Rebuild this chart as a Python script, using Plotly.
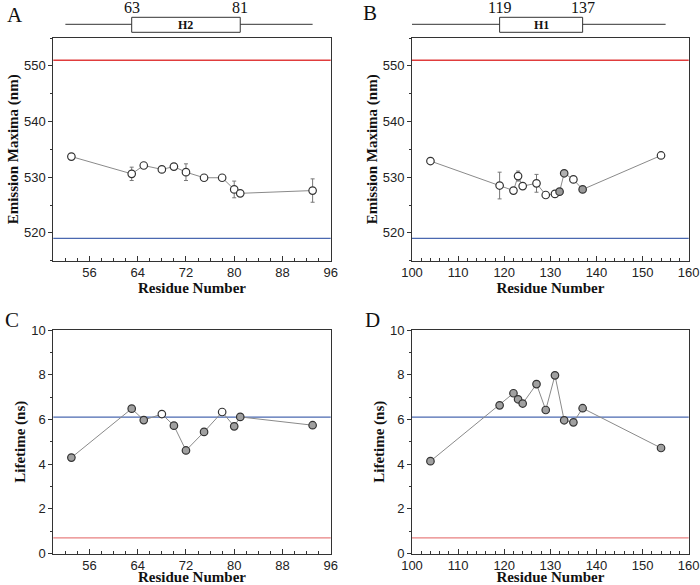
import plotly.graph_objects as go

# ---------------- data ----------------
resA = [53, 63, 65, 68, 70, 72, 75, 78, 80, 81, 93]
emA = [533.7, 530.6, 532.1, 531.4, 531.9, 530.9, 529.9, 529.9, 527.8, 527.1, 527.6]
emA_err = [0.3, 1.2, 0.3, 0.3, 0.3, 1.5, 0.2, 0.2, 1.5, 0.3, 2.1]
fillA = ["white"] * 11

resB = [104, 119, 122, 123, 124, 127, 129, 131, 132, 133, 135, 137, 154]
emB = [532.9, 528.5, 527.6, 530.2, 528.4, 528.9, 526.8, 527.0, 527.4, 530.7, 529.6, 527.8, 533.9]
emB_err = [0.3, 2.4, 0.3, 0.9, 0.3, 1.6, 0.3, 0.3, 0.3, 0.3, 0.3, 0.3, 0.3]
fillB = ["white"] * 8 + ["#9a9a9a", "#b0b0b0", "white", "#9a9a9a", "white"]

resC = [53, 63, 65, 68, 70, 72, 75, 78, 80, 81, 93]
ltC = [4.29, 6.48, 5.97, 6.24, 5.72, 4.61, 5.44, 6.33, 5.69, 6.11, 5.74]
fillC = ["#a0a0a0", "#a0a0a0", "#a0a0a0", "white", "#a0a0a0", "#a0a0a0",
         "#a0a0a0", "white", "#a0a0a0", "#a0a0a0", "#a0a0a0"]

resD = [104, 119, 122, 123, 124, 127, 129, 131, 133, 135, 137, 154]
ltD = [4.13, 6.63, 7.17, 6.90, 6.71, 7.58, 6.42, 7.97, 5.96, 5.87, 6.50, 4.72]
fillD = ["#a0a0a0"] * 12

em_red, em_blue = 551, 519
lt_red, lt_blue = 0.7, 6.1

# schematic: [line start, line end], [helix start, helix end], label
schemA_line = [52, 93]
schemA_helix = [63, 81]
schemA_label = "H2"
schemB_line = [100, 155]
schemB_helix = [119, 137]
schemB_label = "H1"

# ---------------- geometry ----------------
W, H = 700, 585
def px(x): return x / W
def py(y): return 1 - y / H

xdomL = [px(53.3), px(330.7)]
xdomR = [px(412), px(688.7)]
ydomT = [py(260.7), py(38)]
ydomB = [py(553.5), py(330)]

SERIF = "Liberation Serif, Times New Roman, serif"
TICKF = dict(family="Liberation Sans, Arial", size=13, color="#222")
TITF = dict(family=SERIF, size=15, color="#111")

fig = go.Figure()

def add_panel(xa, ya, x, y, err, fills):
    errd = dict(type="data", array=err, visible=True, color="#777",
                thickness=1, width=2) if err is not None else None
    fig.add_trace(go.Scatter(
        x=x, y=y, xaxis=xa, yaxis=ya, mode="lines+markers",
        line=dict(color="#8a8a8a", width=1),
        marker=dict(size=7.5, color=fills, line=dict(color="#333", width=1.2)),
        error_y=errd, showlegend=False, hoverinfo="skip"))

add_panel("x", "y", resA, emA, emA_err, fillA)
add_panel("x2", "y2", resB, emB, emB_err, fillB)
add_panel("x3", "y3", resC, ltC, None, fillC)
add_panel("x4", "y4", resD, ltD, None, fillD)

def xax(domain, rng, dtick, minor_d, anchor):
    return dict(domain=domain, range=rng, anchor=anchor, dtick=dtick,
                tick0=rng[0] if dtick == 10 else 56, automargin=False,
                showgrid=False, zeroline=False, showline=True, mirror=True,
                linecolor="#333", linewidth=1, ticks="inside", ticklen=5,
                tickcolor="#333", tickfont=TICKF,
                minor=dict(dtick=minor_d, ticks="inside", ticklen=3, tickcolor="#333"),
                title=dict(text="<b>Residue Number</b>", font=TITF, standoff=0))

def yax(domain, rng, tickvals_d, minor_d, anchor, title):
    return dict(domain=domain, range=rng, anchor=anchor, dtick=tickvals_d,
                automargin=False,
                showgrid=False, zeroline=False, showline=True, mirror=True,
                linecolor="#333", linewidth=1, ticks="outside", ticklen=4,
                tickcolor="#333", tickfont=TICKF,
                minor=dict(dtick=minor_d, ticks="outside", ticklen=2, tickcolor="#333"),
                title=dict(text="<b>" + title + "</b>", font=TITF, standoff=1))

fig.update_layout(
    width=W, height=H, margin=dict(l=0, r=0, t=0, b=0, autoexpand=False),
    paper_bgcolor="white", plot_bgcolor="white",
    xaxis=xax(xdomL, [50, 96], 8, 2, "y"),
    yaxis=yax(ydomT, [515, 555], 10, 5, "x", "Emission Maxima (nm)"),
    xaxis2=xax(xdomR, [100, 160], 10, 2, "y2"),
    yaxis2=yax(ydomT, [515, 555], 10, 5, "x2", "Emission Maxima (nm)"),
    xaxis3=xax(xdomL, [50, 96], 8, 2, "y3"),
    yaxis3=yax(ydomB, [0, 10], 2, 1, "x3", "Lifetime (ns)"),
    xaxis4=xax(xdomR, [100, 160], 10, 2, "y4"),
    yaxis4=yax(ydomB, [0, 10], 2, 1, "x4", "Lifetime (ns)"),
)

shapes = []
# reference lines
for xr, yr, val, col in [("x", "y", em_red, "#e03c3c"), ("x", "y", em_blue, "#4a68b0"),
                         ("x2", "y2", em_red, "#e03c3c"), ("x2", "y2", em_blue, "#4a68b0"),
                         ("x3", "y3", lt_red, "#e88080"), ("x3", "y3", lt_blue, "#4a68b0"),
                         ("x4", "y4", lt_red, "#e88080"), ("x4", "y4", lt_blue, "#4a68b0")]:
    shapes.append(dict(type="line", xref=xr + " domain", yref=yr, x0=0, x1=1, y0=val, y1=val,
                       line=dict(color=col, width=1.3), layer="below"))

annotations = []
for xr, line_ext, helix, lab in [("x", schemA_line, schemA_helix, schemA_label),
                                 ("x2", schemB_line, schemB_helix, schemB_label)]:
    shapes.append(dict(type="line", xref=xr, yref="paper", x0=line_ext[0], x1=line_ext[1],
                       y0=py(24.3), y1=py(24.3), line=dict(color="#333", width=1)))
    shapes.append(dict(type="rect", xref=xr, yref="paper", x0=helix[0], x1=helix[1],
                       y0=py(32.3), y1=py(17.3), fillcolor="white",
                       line=dict(color="#333", width=1)))
    annotations.append(dict(xref=xr, yref="paper", x=(helix[0] + helix[1]) / 2, y=py(25),
                            xanchor="center", yanchor="middle",
                            text="<b>" + lab + "</b>", showarrow=False,
                            font=dict(family=SERIF, size=12, color="#111")))
    for v in helix:
        annotations.append(dict(xref=xr, yref="paper", x=v, y=py(8), text=str(v),
                                xanchor="center", yanchor="middle", showarrow=False,
                                font=dict(family=SERIF, size=16, color="#111")))

for lab, x, y in [("A", 15, 15), ("B", 370, 13), ("C", 12, 320), ("D", 372, 320)]:
    annotations.append(dict(xref="paper", yref="paper", x=px(x), y=py(y), text=lab,
                            xanchor="center", yanchor="middle", showarrow=False,
                            font=dict(family=SERIF, size=21, color="#111")))

fig.update_layout(shapes=shapes, annotations=annotations)
fig.write_html("out.html", config={"displayModeBar": False})

# remove default page margin so the 700x585 figure fills the window exactly
with open("out.html", encoding="utf-8") as f:
    html = f.read()
html = html.replace("<head>", "<head><style>html,body{margin:0;padding:0;overflow:hidden;}</style>", 1)
with open("out.html", "w", encoding="utf-8") as f:
    f.write(html)
